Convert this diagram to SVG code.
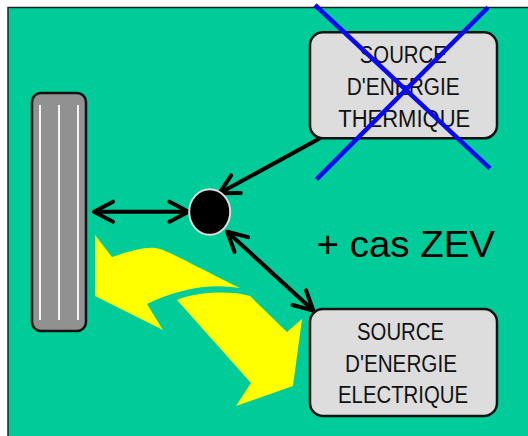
<svg xmlns="http://www.w3.org/2000/svg" width="528" height="436" viewBox="0 0 528 436">
<defs>
<style>
.box{fill:#DDDDDD;stroke:#111;stroke-width:2.5}
.lbl{font-family:"Liberation Sans",Arial,sans-serif;font-size:23px;fill:#111;text-anchor:middle}
.con{stroke:#000;stroke-width:4;fill:none}
.yel{fill:#FFFF00;stroke:none}
.tread{stroke:#F4F4F4;stroke-width:2}
.cross{stroke:#0A0AF0;stroke-width:4.5;stroke-linecap:butt}
</style>
<marker id="chev" markerUnits="userSpaceOnUse" markerWidth="40" markerHeight="40" viewBox="-30 -20 40 40" refX="0" refY="0" orient="auto-start-reverse">
<path d="M-19,-10 L0,0 L-19,10" fill="none" stroke="#000" stroke-width="4" stroke-linecap="round" stroke-linejoin="round"/>
</marker>
</defs>
<rect x="0" y="0" width="528" height="436" fill="#FFFFFF"/>
<rect id="background" x="8" y="7.5" width="540" height="450" fill="#00CC99" stroke="#222" stroke-width="1.5"/>
<g id="flows">
<path class="yel" d="M95,235 L112,257 C130,251 145,247 155,248 C165,249 175,256 240,288 Q195,281 147,304 L163,330 L95,296 Z"/>
<path class="yel" d="M177,300 C195,292 230,290 250,296 L287,332 L302,319 L293,386 L236,406 L251,383 Z"/>
</g>
<g id="wheel">
<rect x="32" y="93" width="54" height="238" rx="9" fill="#919191" stroke="#111" stroke-width="2.5"/>
<line class="tread" x1="40" y1="105" x2="40" y2="320"/>
<line class="tread" x1="59" y1="105" x2="59" y2="320"/>
<line class="tread" x1="78" y1="105" x2="78" y2="320"/>
</g>
<g id="connectors">
<line class="con" x1="94" y1="211.7" x2="188.5" y2="211.7" marker-start="url(#chev)" marker-end="url(#chev)"/>
<line class="con" x1="320" y1="138.3" x2="219.3" y2="193.3" marker-end="url(#chev)"/>
<line class="con" x1="227.3" y1="231.7" x2="313.3" y2="310.5" marker-start="url(#chev)" marker-end="url(#chev)"/>
</g>
<g id="junction">
<ellipse cx="209.7" cy="212" rx="20.5" ry="22.7" fill="#000" stroke="#DDDDDD" stroke-width="2"/>
</g>
<g id="thermal-source">
<rect class="box" x="310" y="32.3" width="187" height="106" rx="13"/>
<text class="lbl" x="403.3" y="63" textLength="87" lengthAdjust="spacingAndGlyphs">SOURCE</text>
<text class="lbl" x="403.3" y="95" textLength="113" lengthAdjust="spacingAndGlyphs">D'ENERGIE</text>
<text class="lbl" x="404.2" y="127" textLength="132" lengthAdjust="spacingAndGlyphs">THERMIQUE</text>
</g>
<g id="electric-source">
<rect class="box" x="310" y="309" width="187" height="107" rx="13"/>
<text class="lbl" x="400.5" y="340" textLength="87" lengthAdjust="spacingAndGlyphs">SOURCE</text>
<text class="lbl" x="401" y="372" textLength="112" lengthAdjust="spacingAndGlyphs">D'ENERGIE</text>
<text class="lbl" x="403" y="403" textLength="130" lengthAdjust="spacingAndGlyphs">ELECTRIQUE</text>
</g>
<g id="zev-label">
<text x="316.5" y="256.7" font-family="'Liberation Sans',Arial,sans-serif" font-size="37" fill="#000" textLength="178.5" lengthAdjust="spacingAndGlyphs">+ cas ZEV</text>
</g>
<g id="cross-out">
<line class="cross" x1="315" y1="5" x2="490" y2="168.3"/>
<line class="cross" x1="488" y1="7.3" x2="316.5" y2="179.3"/>
</g>
</svg>
